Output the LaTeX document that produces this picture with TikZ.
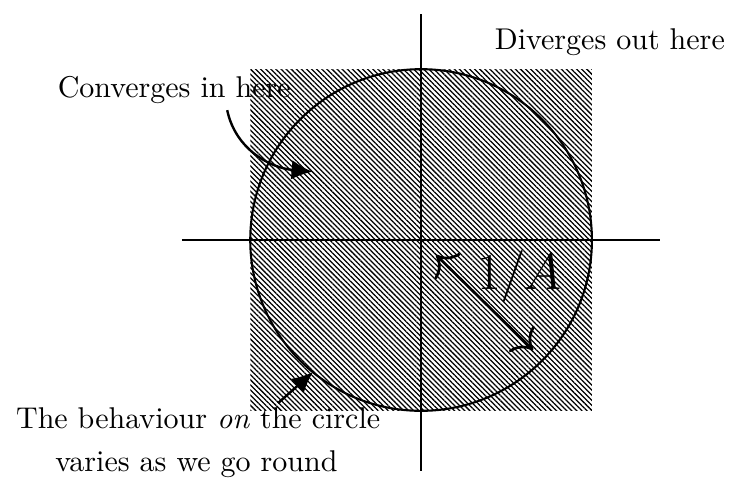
\documentclass[tikz,border=0pt]{standalone}
\usetikzlibrary{patterns.meta,arrows.meta}

\begin{document}
\begin{tikzpicture}[>={To[scale=1.6]}]
    \useasboundingbox (-4.93,-2.88) rectangle (3.64,2.81);
    \fill[pattern={Lines[angle=-45,distance=1.2pt,line width=0.42pt]}] (-2,-2) rectangle (2,2);
    \draw[line width=0.7pt] (0,0) circle (2);
    \draw[line width=0.7pt] (-2.8,0) -- (2.8,0);
    \draw[line width=0.7pt] (0,-2.7) -- (0,2.65);
    \node (div) at (2.21,2.32) {Diverges out here};
    \node (conv) at (-2.89,1.76) {Converges in here};
    \node (on) at (-2.61,-2.09) {The behaviour \emph{on} the circle};
    \node (round) at (-2.63,-2.62) {varies as we go round};
    \node (rad) at (1.15,-0.43) {\LARGE $1/A$};
    \coordinate (convtail) at (-2.27,1.52);
    \coordinate (convtip) at (-1.27,0.80);
    \coordinate (ontail) at (-1.675,-1.91);
    \coordinate (ontip) at (-1.265,-1.546);
    \coordinate (r1) at (0.176,-0.176);
    \coordinate (r2) at (1.312,-1.288);
    \draw[-{Latex[length=7pt,width=6.5pt]}, line width=0.8pt] (convtail) to[out=-78,in=175] (convtip);
    \draw[-{Latex[length=7pt,width=6.5pt]}, line width=0.8pt] (ontail) -- (ontip);
    \draw[<->, line width=0.9pt] (r1) -- (r2);
\end{tikzpicture}
\end{document}
